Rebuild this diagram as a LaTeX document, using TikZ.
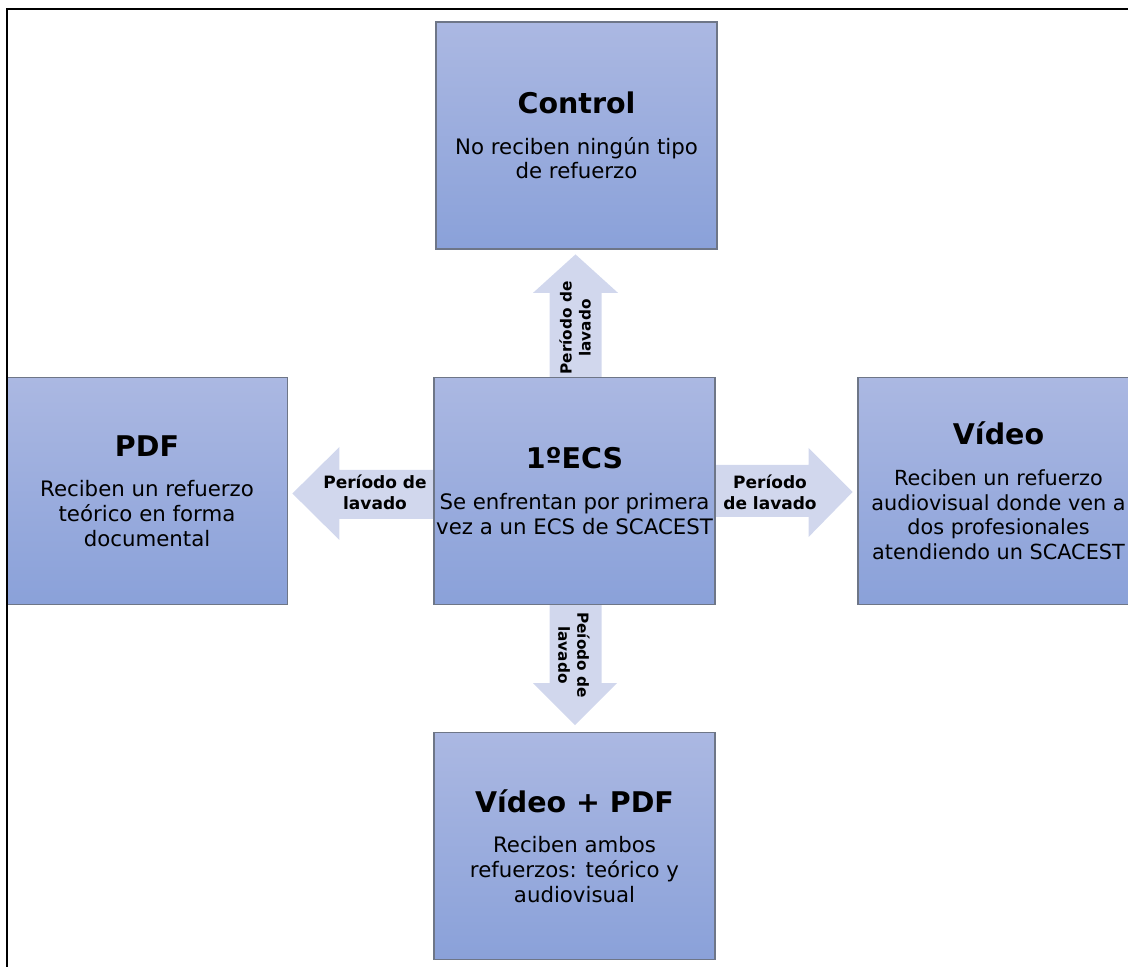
\documentclass[tikz,border=0pt]{standalone}
\usepackage{fontspec}
\setmainfont{DejaVu Sans}
\usetikzlibrary{calc,backgrounds}
\definecolor{boxtop}{RGB}{171,184,226}
\definecolor{boxbot}{RGB}{138,161,217}
\definecolor{boxline}{RGB}{110,118,135}
\definecolor{arrowfill}{RGB}{209,215,237}
\newcommand{\grouptitle}[1]{{\fontsize{28.5}{33}\selectfont\bfseries #1}}

\begin{document}
\begin{tikzpicture}[x=1pt,y=1pt,
  groupbox/.style={draw=boxline, line width=1.2pt, top color=boxtop, bottom color=boxbot,
    minimum width=281pt, minimum height=227pt, inner sep=0pt, align=center,
    font=\fontsize{21.3}{24.7}\selectfont},
  washout/.style={fill=arrowfill},
  washlabel/.style={font=\fontsize{17}{21}\selectfont\bfseries, align=center, inner sep=0pt},
  vwashlabel/.style={font=\fontsize{15.3}{19}\selectfont\bfseries, align=center, inner sep=0pt}]
\useasboundingbox (0,0) rectangle (1128,967);
\clip (0,0) rectangle (1128,967);

% study groups
\node[groupbox] (ecs) at (574.5,476)
  {\grouptitle{1ºECS}\\[16pt]Se enfrentan por primera\\vez a un ECS de SCACEST};
\node[groupbox] (ctrl) at (576.5,831.5)
  {\grouptitle{Control}\\[16pt]No reciben ningún tipo\\de refuerzo};
\node[groupbox] (pdf) at (147,476)
  {\grouptitle{PDF}\\[16pt]Reciben un refuerzo\\teórico en forma\\documental};
\node[groupbox, font=\fontsize{20.8}{24.7}\selectfont] (vid) at (998.5,476)
  {\grouptitle{Vídeo}\\[16pt]Reciben un refuerzo\\audiovisual donde ven a\\dos profesionales\\atendiendo un SCACEST};
\node[groupbox] (vpdf) at (574.5,121)
  {\grouptitle{Vídeo + PDF}\\[16pt]Reciben ambos\\refuerzos: teórico y\\audiovisual};

% block arrows for the washout periods
\begin{scope}[on background layer]
  \fill[washout] ($(ecs.north)+(-25,0)$) -- ($(ecs.north)+(-25,84)$) -- ($(ecs.north)+(-41.5,84)$)
    -- ($(ecs.north)+(1,122.5)$) -- ($(ecs.north)+(43.5,84)$) -- ($(ecs.north)+(27,84)$)
    -- ($(ecs.north)+(27,0)$) -- cycle;
  \fill[washout] ($(ecs.south)+(-25,0)$) -- ($(ecs.south)+(-25,-78)$) -- ($(ecs.south)+(-41.5,-78)$)
    -- ($(ecs.south)+(0.5,-120)$) -- ($(ecs.south)+(42.5,-78)$) -- ($(ecs.south)+(27,-78)$)
    -- ($(ecs.south)+(27,0)$) -- cycle;
  \fill[washout] ($(ecs.west)+(0,21)$) -- ($(ecs.west)+(-94,21)$) -- ($(ecs.west)+(-94,44)$)
    -- ($(ecs.west)+(-141,-2.5)$) -- ($(ecs.west)+(-94,-49)$) -- ($(ecs.west)+(-94,-28)$)
    -- ($(ecs.west)+(0,-28)$) -- cycle;
  \fill[washout] ($(ecs.east)+(0,26)$) -- ($(ecs.east)+(93,26)$) -- ($(ecs.east)+(93,43)$)
    -- ($(ecs.east)+(137,-1)$) -- ($(ecs.east)+(93,-46)$) -- ($(ecs.east)+(93,-26)$)
    -- ($(ecs.east)+(0,-26)$) -- cycle;
\end{scope}

% arrow labels
\node[vwashlabel, rotate=90] (lup) at (575,639) {Período de\\lavado};
\node[vwashlabel, rotate=-90] (ldown) at (574,312) {Peíodo de\\lavado};
\node[washlabel] (lleft) at (375,475) {Período de\\lavado};
\node[washlabel] (lright) at (770,475) {Período\\de lavado};

% outer frame
\draw[line width=2.5pt] (7,-20) -- (7,958) -- (1150,958);
\end{tikzpicture}
\end{document}
